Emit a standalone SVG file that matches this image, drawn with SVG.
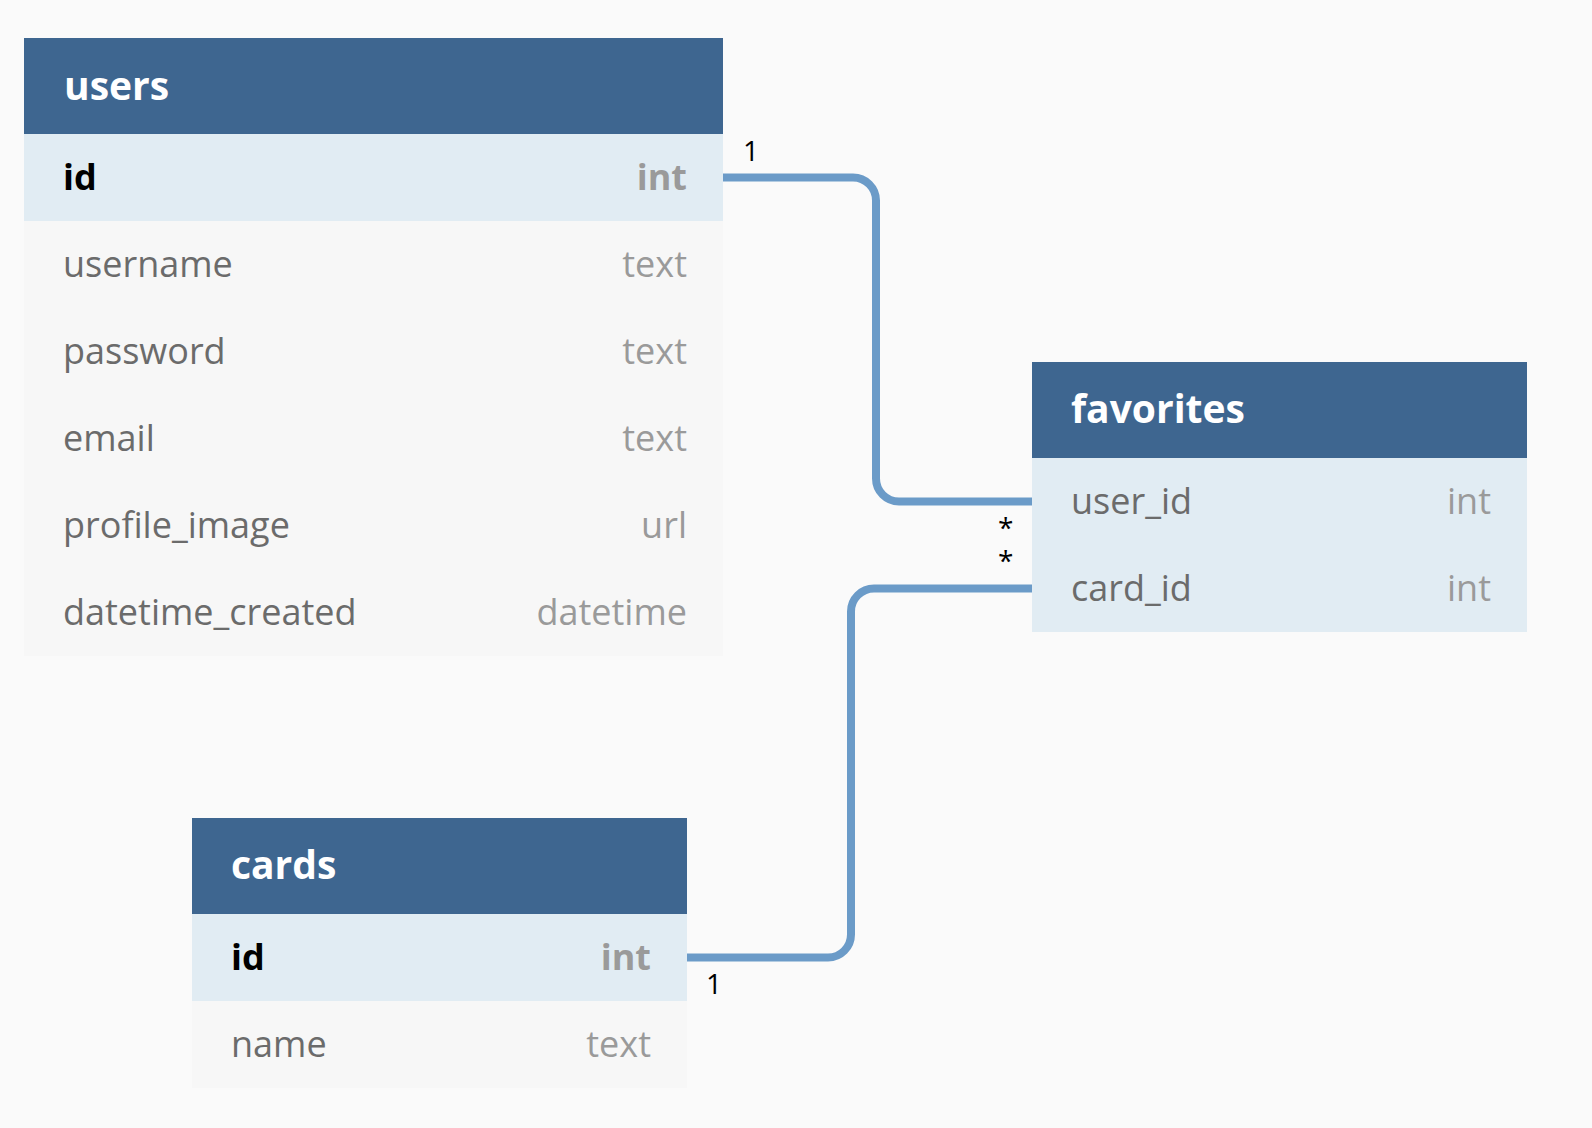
<svg xmlns="http://www.w3.org/2000/svg" width="1592" height="1128" viewBox="0 0 1592 1128">
<style>
.bg{fill:#fafafa}
.hdr{fill:#3e6690}
.pk{fill:#e1ecf3}
.row{fill:#f7f7f7}
.title{font-family:"Open Sans","Noto Sans",sans-serif;font-weight:700;font-size:39px;fill:#ffffff}
.fname{font-family:"Open Sans","Noto Sans",sans-serif;font-size:36px;fill:#6b6b6b}
.fpk{font-family:"Open Sans","Noto Sans",sans-serif;font-size:36px;font-weight:700;fill:#000000}
.ftype{font-family:"Open Sans","Noto Sans",sans-serif;font-size:36px;fill:#9a9a9a;text-anchor:end}
.ftypepk{font-family:"Open Sans","Noto Sans",sans-serif;font-size:36px;font-weight:700;fill:#9a9a9a;text-anchor:end}
.conn{fill:none;stroke:#6b9bc8;stroke-width:8}
.lbl{font-family:"Open Sans","Noto Sans",sans-serif;font-size:28px;fill:#000000}
</style>
<rect class="bg" x="0" y="0" width="1592" height="1128"/>
<g id="connectors">
<path class="conn" d="M723,177.5 H853 A23,23 0 0 1 876,200.5 V478.5 A23,23 0 0 0 899,501.5 H1032"/>
<path class="conn" d="M687,957.5 H828 A23,23 0 0 0 851,934.5 V611.5 A23,23 0 0 1 874,588.5 H1032"/>
<text class="lbl" x="743" y="161">1</text>
<text class="lbl" x="998" y="538">*<tspan x="998" dy="33">*</tspan></text>
<text class="lbl" x="706" y="994">1</text>
</g>
<g id="users">
<rect class="hdr" x="24" y="38" width="699" height="96"/>
<rect class="pk" x="24" y="134" width="699" height="87"/>
<rect class="row" x="24" y="221" width="699" height="435"/>
<text class="title" x="64" y="100">users</text>
<text class="fpk" x="63" y="190">id</text>
<text class="ftypepk" x="687" y="190">int</text>
<text class="fname" x="63" y="277">username</text>
<text class="ftype" x="687" y="277">text</text>
<text class="fname" x="63" y="364">password</text>
<text class="ftype" x="687" y="364">text</text>
<text class="fname" x="63" y="451">email</text>
<text class="ftype" x="687" y="451">text</text>
<text class="fname" x="63" y="538">profile_image</text>
<text class="ftype" x="687" y="538">url</text>
<text class="fname" x="63" y="625">datetime_created</text>
<text class="ftype" x="687" y="625">datetime</text>
</g>
<g id="favorites">
<rect class="hdr" x="1032" y="362" width="495" height="96"/>
<rect class="pk" x="1032" y="458" width="495" height="174"/>
<text class="title" x="1071" y="423">favorites</text>
<text class="fname" x="1071" y="514">user_id</text>
<text class="ftype" x="1491" y="514">int</text>
<text class="fname" x="1071" y="601">card_id</text>
<text class="ftype" x="1491" y="601">int</text>
</g>
<g id="cards">
<rect class="hdr" x="192" y="818" width="495" height="96"/>
<rect class="pk" x="192" y="914" width="495" height="87"/>
<rect class="row" x="192" y="1001" width="495" height="87"/>
<text class="title" x="231" y="879">cards</text>
<text class="fpk" x="231" y="970">id</text>
<text class="ftypepk" x="651" y="970">int</text>
<text class="fname" x="231" y="1057">name</text>
<text class="ftype" x="651" y="1057">text</text>
</g>
</svg>
